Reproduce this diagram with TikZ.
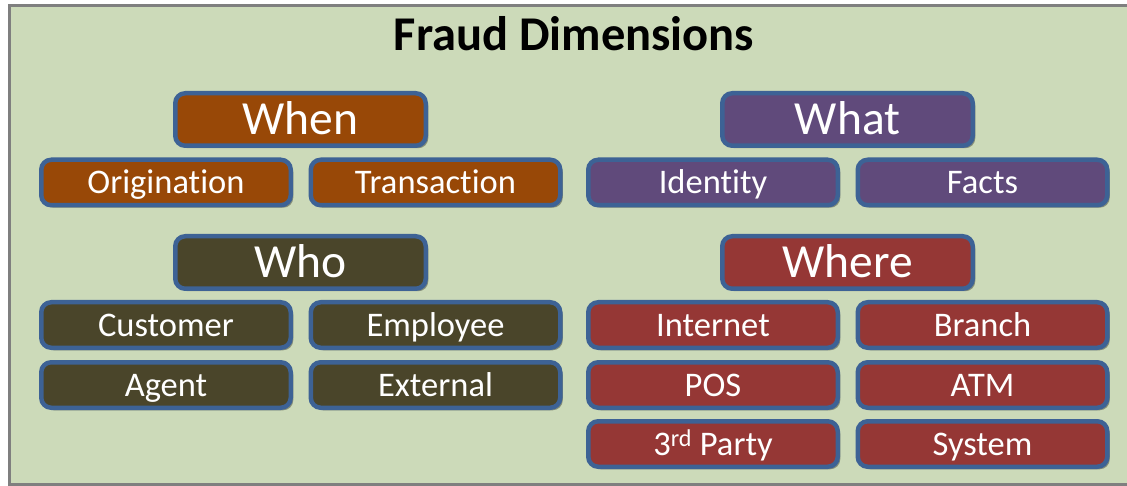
\documentclass[tikz,border=0pt]{standalone}
\usepackage{fontspec}
\setmainfont{Carlito}[Ligatures=NoCommon]
\usetikzlibrary{shadows}

\definecolor{panelgreen}{HTML}{CCDAB9}
\definecolor{framegray}{HTML}{7F7F7F}
\definecolor{edgeblue}{HTML}{3D6295}
\definecolor{whenfill}{HTML}{984807}
\definecolor{whatfill}{HTML}{604A7B}
\definecolor{whofill}{HTML}{4A452A}
\definecolor{wherefill}{HTML}{953735}

\tikzset{
  tile/.style={draw=edgeblue, line width=4.5pt, rounded corners=10pt,
    text=white, inner sep=0pt, outer sep=0pt, align=center, text depth=0pt,
    drop shadow={shadow xshift=2.5pt, shadow yshift=-2.5pt, opacity=0.35, fill=black}},
  % text height = cap height, so the capitals sit centred in the tile
  headtile/.style={tile, minimum width=250.5pt, minimum height=52.5pt,
    font=\fontsize{47.5}{52}\selectfont, text height=30.5pt},
  subtile/.style={tile, minimum width=249.5pt, minimum height=45.5pt,
    font=\fontsize{34.5}{38}\selectfont, text height=22.2pt},
  whenbox/.style={fill=whenfill},
  whatbox/.style={fill=whatfill},
  whobox/.style={fill=whofill},
  wherebox/.style={fill=wherefill}
}

\begin{document}
\begin{tikzpicture}[x=1pt, y=-1pt]
  \useasboundingbox (0,0) rectangle (1127,486);
  \fill[white] (0,0) rectangle (1127,486);
  \clip (0,0) rectangle (1127,486);

  % panel
  \draw[framegray, line width=3pt, fill=panelgreen] (9.5,5.5) rectangle (1140,484.5);

  % title
  \node[font=\bfseries\fontsize{48.5}{52}\selectfont, anchor=base] (title) at (574,51) {Fraud Dimensions};

  % When
  \node[headtile, whenbox] (when) at (300.5,119.5) {When};
  \node[subtile, whenbox] (origination) at (166,182.5) {Origination};
  \node[subtile, whenbox] (transaction) at (435.5,182.5) {Transaction};

  % What
  \node[headtile, whatbox] (what) at (847.5,119.5) {What};
  \node[subtile, whatbox] (identity) at (713,182.5) {Identity};
  \node[subtile, whatbox] (facts) at (982.5,182.5) {Facts};

  % Who
  \node[headtile, whobox] (who) at (300.5,262.5) {Who};
  \node[subtile, whobox] (customer) at (166,325) {Customer};
  \node[subtile, whobox] (employee) at (435.5,325) {Employee};
  \node[subtile, whobox] (agent) at (166,385) {Agent};
  \node[subtile, whobox] (external) at (435.5,385) {External};

  % Where
  \node[headtile, wherebox] (where) at (847.5,262.5) {Where};
  \node[subtile, wherebox] (internet) at (713,325) {Internet};
  \node[subtile, wherebox] (branch) at (982.5,325) {Branch};
  \node[subtile, wherebox] (pos) at (713,385) {POS};
  \node[subtile, wherebox] (atm) at (982.5,385) {ATM};
  \node[subtile, wherebox] (thirdparty) at (713,444) {3\textsuperscript{rd} Party};
  \node[subtile, wherebox] (system) at (982.5,444) {System};
\end{tikzpicture}
\end{document}
